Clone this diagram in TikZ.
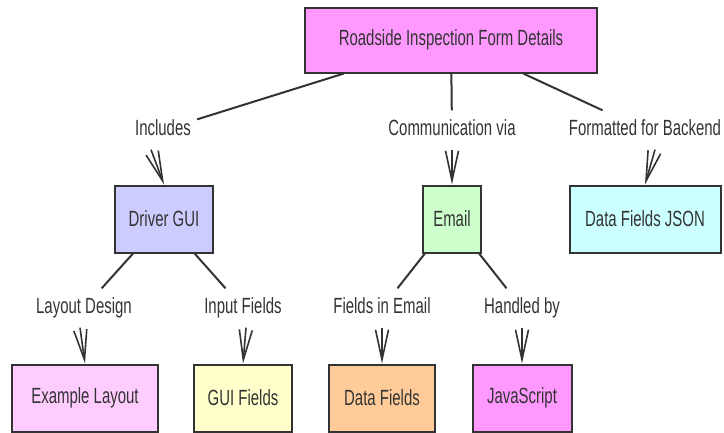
\documentclass[tikz,border=0pt]{standalone}
\usepackage{fontspec}
\setmainfont{Liberation Sans}[FakeStretch=0.68]
\usetikzlibrary{arrows.meta, positioning}

\definecolor{inkgray}{HTML}{333333}
\definecolor{rootpink}{HTML}{FF99FF}
\definecolor{guiblue}{HTML}{CCCCFF}
\definecolor{mailgreen}{HTML}{CCFFCC}
\definecolor{jsoncyan}{HTML}{CCFFFF}
\definecolor{layoutpink}{HTML}{FFCCFF}
\definecolor{fieldyellow}{HTML}{FFFFCC}
\definecolor{dataorange}{HTML}{FFCC99}
\definecolor{scriptpink}{HTML}{FF99FF}

\begin{document}
\begin{tikzpicture}[
        x=1pt, y=-1pt,
        box/.style={rectangle, draw=inkgray, line width=2pt, minimum height=67pt, inner sep=0pt, text=inkgray, font=\fontsize{22}{25}\selectfont},
        lbl/.style={inner xsep=6pt, inner ysep=10pt, text height=15pt, text depth=4pt, text=inkgray, font=\fontsize{22}{25}\selectfont},
        link/.style={draw=inkgray, line width=2pt},
        arr/.style={link, line width=1.6pt, -{Straight Barb[length=30pt, width=13pt, line width=1.6pt]}}
    ]
    \useasboundingbox (0,0) rectangle (724,432);

    % Wurzel
    \node[box, fill=rootpink, minimum width=292pt, minimum height=65pt] (root) at (451,40) {Roadside Inspection Form Details};

    % erste Ebene: Kantenbeschriftungen
    \node[lbl] (incl) at (163,130) {Includes};
    \node[lbl] (comm) at (452,130) {Communication via};
    \node[lbl] (fmt) at (645,130) {Formatted for Backend};

    % erste Ebene: Knoten
    \node[box, fill=guiblue, minimum width=98pt] (gui) at (164,219) {Driver GUI};
    \node[box, fill=mailgreen, minimum width=58pt] (mail) at (452,219) {Email};
    \node[box, fill=jsoncyan, minimum width=151pt] (json) at (645,219) {Data Fields JSON};

    % zweite Ebene: Kantenbeschriftungen
    \node[lbl] (lay) at (84,308) {Layout Design};
    \node[lbl] (inp) at (243,308) {Input Fields};
    \node[lbl] (fie) at (382,308) {Fields in Email};
    \node[lbl] (hand) at (522,308) {Handled by};

    % zweite Ebene: Knoten
    \node[box, fill=layoutpink, minimum width=146pt] (exl) at (85,398) {Example Layout};
    \node[box, fill=fieldyellow, minimum width=98pt] (guif) at (243,398) {GUI Fields};
    \node[box, fill=dataorange, minimum width=106pt] (data) at (382,398) {Data Fields};
    \node[box, fill=scriptpink, minimum width=99pt] (js) at (522,398) {JavaScript};

    % Kanten von der Wurzel
    \draw[link] (root) -- (incl);
    \draw[link] (root) -- (comm);
    \draw[link] (root) -- (fmt);
    \draw[arr] ([xshift=-12pt]incl.south) -- (gui.north);
    \draw[arr] (comm.south) -- (mail.north);
    \draw[arr] ([xshift=10pt]fmt.south) -- (json.north);

    % Kanten der zweiten Ebene
    \foreach \from/\to in {gui/lay, gui/inp, mail/fie, mail/hand}
        \draw[link] (\from) -- (\to);
    \draw[arr] ([xshift=-4pt]lay.south) -- (exl.north);
    \draw[arr] ([xshift=3pt]inp.south) -- (guif.north);
    \draw[arr] (fie.south) -- (data.north);
    \draw[arr] (hand.south) -- (js.north);

\end{tikzpicture}
\end{document}
